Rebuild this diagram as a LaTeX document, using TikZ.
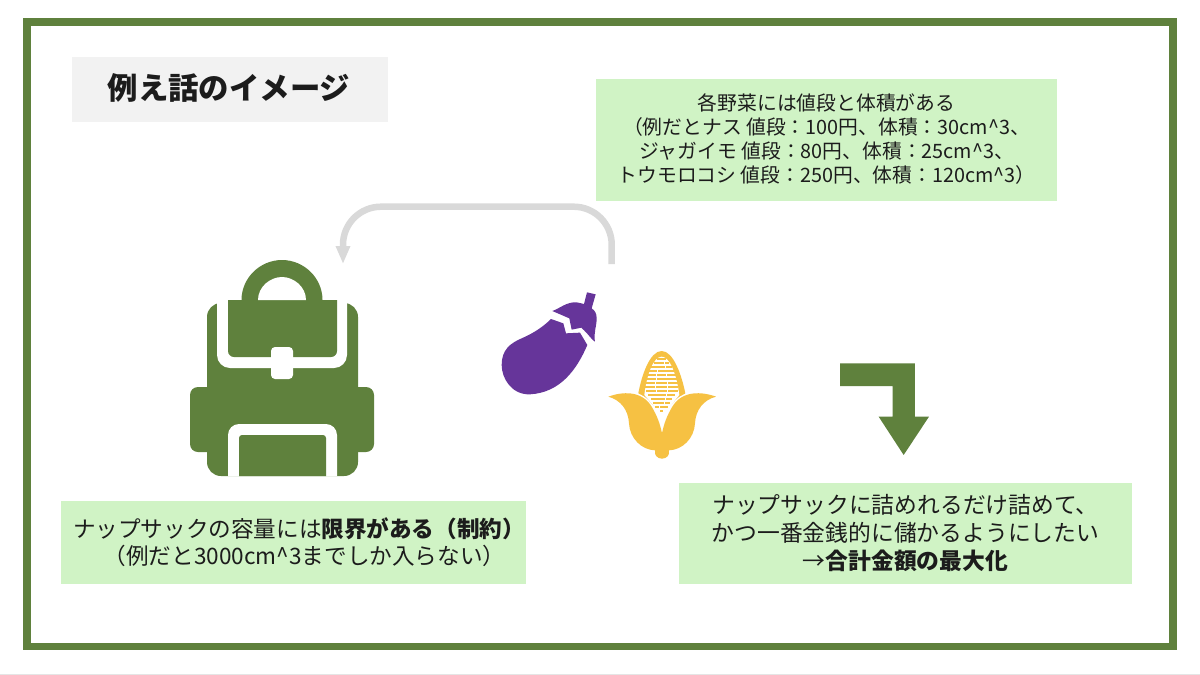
\documentclass[tikz,border=0pt]{standalone}
\usepackage{fontspec}
\setmainfont{Noto Sans CJK JP}
\usetikzlibrary{arrows.meta}
\definecolor{leaf}{HTML}{5F813D}
\definecolor{note}{HTML}{D0F3C5}
\definecolor{plum}{HTML}{66359A}
\definecolor{maize}{HTML}{F6C143}
\definecolor{ink}{HTML}{1C1C1C}
\begin{document}
\begin{tikzpicture}[x=1pt, y=-1pt,
	note/.style = {fill=note, text=ink, align=center, inner sep=0pt, font=\fontsize{22.8}{28}\selectfont},
	zoomb/.style = {shift={(480,280)}, x=0.3333pt, y=-0.3333pt},
	zoomc/.style = {shift={(605,345)}, x=0.3333pt, y=-0.3333pt},
	zooma/.style = {shift={(820,350)}, x=0.3333pt, y=-0.3333pt}]
	\useasboundingbox (0,0) rectangle (1200,675);
	\fill[white] (0,0) rectangle (1200,675);
	\fill[black!10] (0,674) rectangle (1200,675);
	\draw[leaf, line width=7.5pt] (27,22) rectangle (1173,646.3);

	\node[fill=black!5, minimum width=316pt, minimum height=65pt] (title) at (230,89.5) {};
	\node[text=ink, inner sep=0pt, font=\fontsize{30.4}{36}\selectfont\bfseries] (titletext) at (229,87.5) {例え話のイメージ};
	\node[note, minimum width=461pt, minimum height=122pt, font=\fontsize{19.8}{24}\selectfont] (veg) at (826.5,139.5) {各野菜には値段と体積がある\\（例だとナス 値段：100円、体積：30cm\textasciicircum 3、\\ジャガイモ 値段：80円、体積：25cm\textasciicircum 3、\\トウモロコシ 値段：250円、体積：120cm\textasciicircum 3）};
	\node[note, minimum width=465pt, minimum height=83pt, font=\fontsize{22.6}{27.5}\selectfont] (limit) at (293.5,542) {\hspace*{11pt}ナップサックの容量には\textbf{限界がある（制約）}\\\hspace*{22pt}（例だと3000cm\textasciicircum 3までしか入らない）};
	\node[note, minimum width=453pt, minimum height=101pt] (goal) at (905.5,533.5) {ナップサックに詰めれるだけ詰めて、\\かつ一番金銭的に儲かるようにしたい\\→\textbf{合計金額の最大化}};

	% backpack
	\fill[leaf, rounded corners=14pt] (207,303) rectangle (358,476);
	\fill[leaf, rounded corners=8pt] (190,387) rectangle (374,452);
	\fill[white, rounded corners=13pt] (217,285) rectangle (347,368);
	\fill[white] (200,285) rectangle (365,303);
	\fill[leaf] (228,300) [rounded corners=6pt] -- (228,357) -- (337,357) [sharp corners] -- (337,300) -- cycle;
	\fill[leaf] (241.5,300) .. controls (241.5,278) and (260,260) .. (282,260) .. controls (304,260) and (322.5,278) .. (322.5,300) -- cycle;
	\fill[white] (258,300) .. controls (258,287) and (270,277) .. (282,277) .. controls (294,277) and (306,287) .. (306,300) -- cycle;
	\fill[white, rounded corners=4pt] (271,347) rectangle (293,379);
	\fill[white] (228,476) [rounded corners=11pt] -- (228,424) -- (337,424) [sharp corners] -- (337,476) -- cycle;
	\fill[leaf] (239,476) [rounded corners=3pt] -- (239,435) -- (326,435) [sharp corners] -- (326,476) -- cycle;

	% eggplant
	\begin{scope}[zoomb]
		\fill[plum] (322,195) .. controls (290,270) and (240,338) .. (150,343) .. controls (95,345) and (65,295) .. (65,255) .. controls (65,210) and (90,190) .. (125,175) .. controls (160,160) and (190,140) .. (213,117) -- (250,130) -- (258,160) -- (300,158) -- cycle;
		\fill[plum] (217,93) .. controls (240,85) and (260,65) .. (290,67) .. controls (300,68) and (308,72) .. (312,72) -- (321,37) -- (347,43) -- (335,85) .. controls (345,92) and (350,100) .. (350,115) .. controls (350,140) and (340,160) .. (345,185) .. controls (335,180) and (328,165) .. (304,143) -- (275,149) -- (268,115) -- cycle;
	\end{scope}

	% corn
	\begin{scope}[zoomc]
		\fill[maize] (100,145) .. controls (110,90) and (135,18) .. (170,18) .. controls (205,18) and (230,90) .. (241,145) -- (170,200) -- cycle;
		\fill[white] (118,150) .. controls (125,90) and (145,35) .. (170,35) .. controls (195,35) and (215,90) .. (223,150) -- (172,212) -- cycle;
		\foreach \y/\w in {42/12, 54/22, 66/30, 78/36, 90/40, 102/44, 114/48, 126/48, 138/46, 150/38, 162/30, 174/24, 186/18, 198/4}
			\foreach \k in {-1,0,1}
				\fill[maize] ({170+\k*\w*0.72-\w*0.33},\y-3.6) rectangle ({170+\k*\w*0.72+\w*0.33},\y+3.6);
		\fill[maize, preaction={draw=white, line width=3pt}] (10,155) .. controls (50,140) and (110,135) .. (140,185) .. controls (155,210) and (165,235) .. (171,265) .. controls (177,235) and (187,210) .. (202,185) .. controls (232,135) and (292,140) .. (333,155) .. controls (295,165) and (272,195) .. (270,235) .. controls (268,280) and (232,315) .. (192,316) .. controls (195,330) and (185,341) .. (171,341) .. controls (157,341) and (147,330) .. (150,316) .. controls (110,315) and (74,280) .. (72,235) .. controls (70,195) and (47,165) .. (10,155) -- cycle;
	\end{scope}

	% arrows
	\coordinate (from) at (611.7,264);
	\coordinate (bendr) at (611.7,206.7);
	\coordinate (bendl) at (343,206.7);
	\coordinate (pack) at (343,264);
	\draw[black!15, line width=6.5pt, rounded corners=38pt, -{Triangle[length=18pt,width=13.5pt]}] (from) -- (bendr) -- (bendl) -- (pack);
	\begin{scope}[zooma]
		\fill[leaf] (60,40) -- (285,40) -- (285,200) -- (327,200) -- (251,315) -- (176,200) -- (218,200) -- (218,108) -- (60,108) -- cycle;
	\end{scope}
\end{tikzpicture}
\end{document}
